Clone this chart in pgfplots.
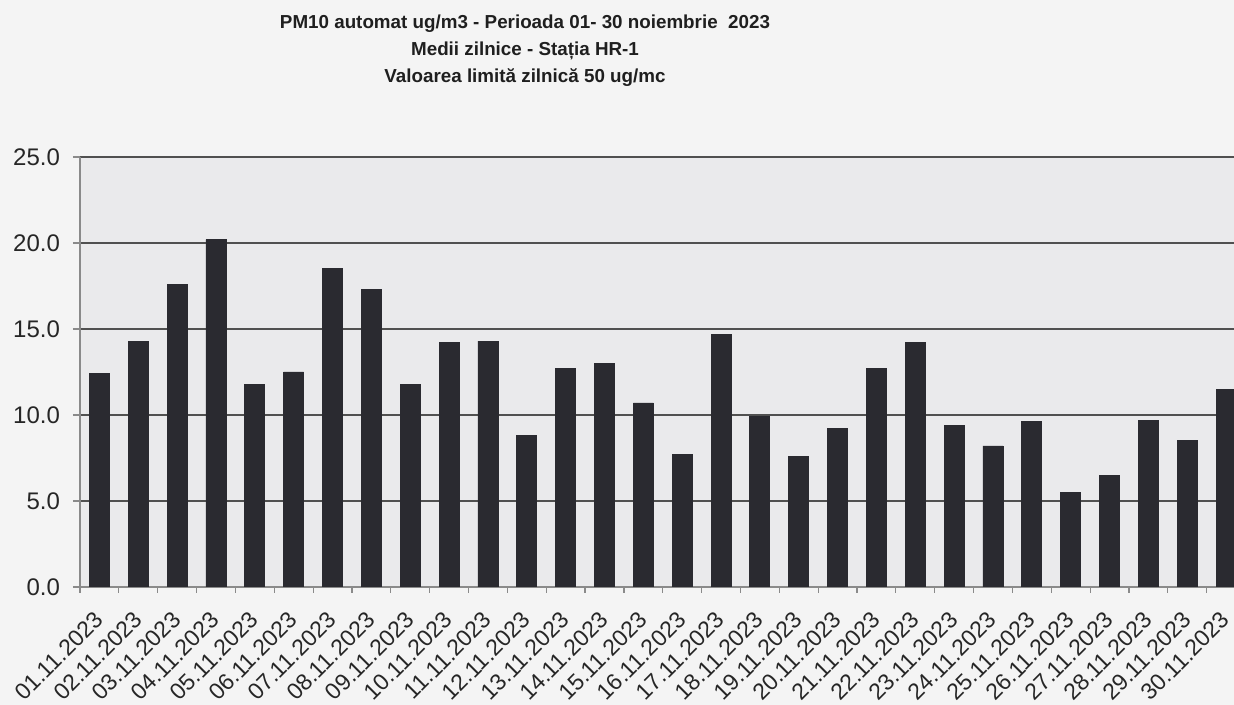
\documentclass[border=0pt]{standalone}
\usepackage{fontspec}
\setmainfont{Liberation Sans}
\usepackage{pgfplots}
\pgfplotsset{compat=1.18}
\definecolor{pagebg}{HTML}{F4F4F4}
\definecolor{plotbg}{HTML}{EAEAEC}
\definecolor{barc}{HTML}{2A2A30}
\definecolor{gridc}{HTML}{505050}
\definecolor{axc}{HTML}{8A8A8A}
\begin{document}
\begin{tikzpicture}
\path[use as bounding box, fill=pagebg] (0,0) rectangle (617pt,352.5pt);
\clip (0,0) rectangle (617pt,352.5pt);
\begin{axis}[
  at={(40pt,59pt)}, anchor=south west,
  scale only axis, width=582.75pt, height=215pt,
  xmin=-0.5, xmax=29.5, ymin=0, ymax=25,
  axis x line*=bottom, axis y line*=left,
  axis line style={axc, line width=0.6pt},
  axis background/.style={fill=plotbg},
  ybar, bar width=10pt,
  xtick={0,...,29},
  xticklabels={01.11.2023,02.11.2023,03.11.2023,04.11.2023,05.11.2023,06.11.2023,07.11.2023,08.11.2023,09.11.2023,10.11.2023,11.11.2023,12.11.2023,13.11.2023,14.11.2023,15.11.2023,16.11.2023,17.11.2023,18.11.2023,19.11.2023,20.11.2023,21.11.2023,22.11.2023,23.11.2023,24.11.2023,25.11.2023,26.11.2023,27.11.2023,28.11.2023,29.11.2023,30.11.2023},
  major x tick style={draw=none},
  minor xtick={-0.5,0.5,...,29.5},
  minor tick length=3pt,
  major tick length=3.5pt,
  tick align=outside,
  tick style={axc, line width=0.6pt},
  ytick={0,5,...,25},
  ymajorgrids,
  grid style={gridc, line width=0.7pt},
  yticklabel style={/pgf/number format/fixed, /pgf/number format/fixed zerofill, /pgf/number format/precision=1, /pgf/number format/assume math mode=true, font=\fontsize{12}{14}\selectfont, text=black!85, xshift=-3pt},
  xticklabel style={font=\fontsize{11.5}{13}\selectfont, text=black!85, xshift=-3.2pt, yshift=-6.5pt, rotate=45, anchor=north east, inner sep=1pt},
]
\addplot[fill=barc, draw=barc] coordinates {
(0,12.4) (1,14.3) (2,17.6) (3,20.2) (4,11.8) (5,12.5) (6,18.5) (7,17.3) (8,11.8) (9,14.2)
(10,14.3) (11,8.8) (12,12.7) (13,13.0) (14,10.7) (15,7.7) (16,14.7) (17,9.9) (18,7.6) (19,9.2)
(20,12.7) (21,14.2) (22,9.4) (23,8.2) (24,9.6) (25,5.5) (26,6.5) (27,9.7) (28,8.5) (29,11.5)
};
\end{axis}
\node[align=center, font=\bfseries\fontsize{9.4}{13.5}\selectfont, text=black!88, anchor=north] at (262.5pt,348.5pt)
  {PM10 automat ug/m3 - Perioada 01- 30 noiembrie\ \ 2023\\ Medii zilnice - Stația HR-1\\ Valoarea limită zilnică 50 ug/mc};
\end{tikzpicture}
\end{document}
